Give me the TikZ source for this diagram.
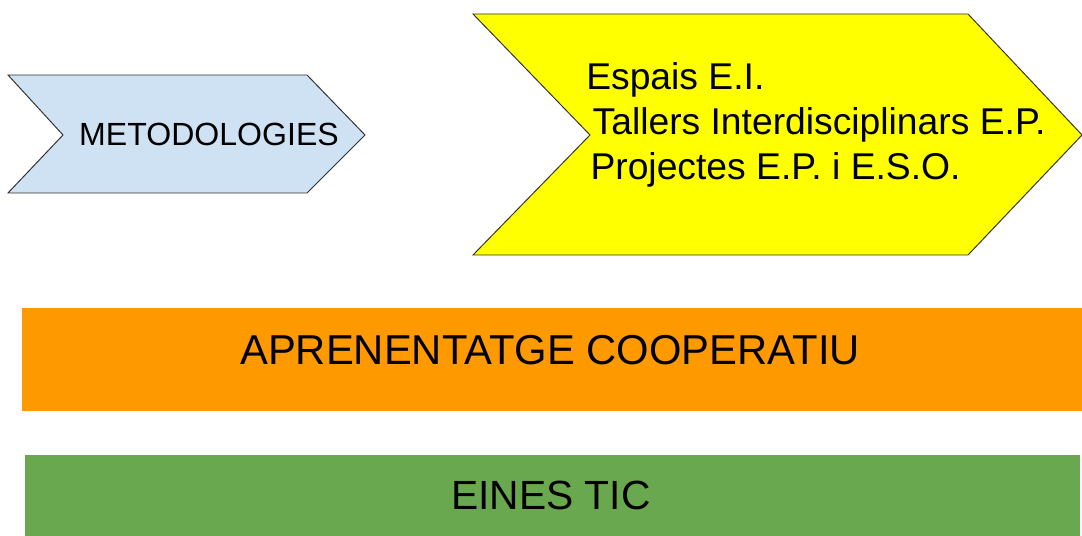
\documentclass[tikz,border=0pt]{standalone}
\usepackage{fontspec}
\setmainfont{Liberation Sans}
\usepackage{tikz}

\definecolor{chevblue}{HTML}{CFE2F3}
\definecolor{chevyellow}{HTML}{FFFF00}
\definecolor{barorange}{HTML}{FF9900}
\definecolor{bargreen}{HTML}{6AA84F}
\definecolor{edgegray}{HTML}{333333}

\begin{document}
\begin{tikzpicture}
[x=0.025cm,y=-0.025cm]
\tikzset{chev/.style={draw=edgegray,line width=0.7pt,line join=miter},
	lbl/.style={inner sep=0pt,text=black}}
\useasboundingbox (0,0) rectangle (1082,536);

% chevrons
\filldraw [chev,fill=chevblue] (8,75) -- (307,75) -- (365,135) -- (307,193) -- (8,193) -- (63,135) -- cycle;
\node [lbl,font=\fontsize{22.8}{27}\selectfont] (met) at (209,134) {METODOLOGIES};

\filldraw [chev,fill=chevyellow] (473,14) -- (968,14) -- (1082,135) -- (968,255) -- (473,255) -- (590,135) -- cycle;
\node [lbl,anchor=west,align=left,font=\fontsize{26.5}{32}\selectfont] (proj) at (586,125)
	{Espais E.I.\\ \hspace*{4.5pt}Tallers Interdisciplinars E.P.\\ \hspace*{3pt}Projectes E.P. i E.S.O.};

% bars
\fill [barorange] (22,308) rectangle (1082,411);
\node [lbl,font=\fontsize{29.7}{34}\selectfont] (coop) at (550,350) {APRENENTATGE COOPERATIU};

\fill [bargreen] (25,455) rectangle (1080,536);
\node [lbl,font=\fontsize{29}{34}\selectfont] (tic) at (551,495) {EINES TIC};

\end{tikzpicture}
\end{document}
